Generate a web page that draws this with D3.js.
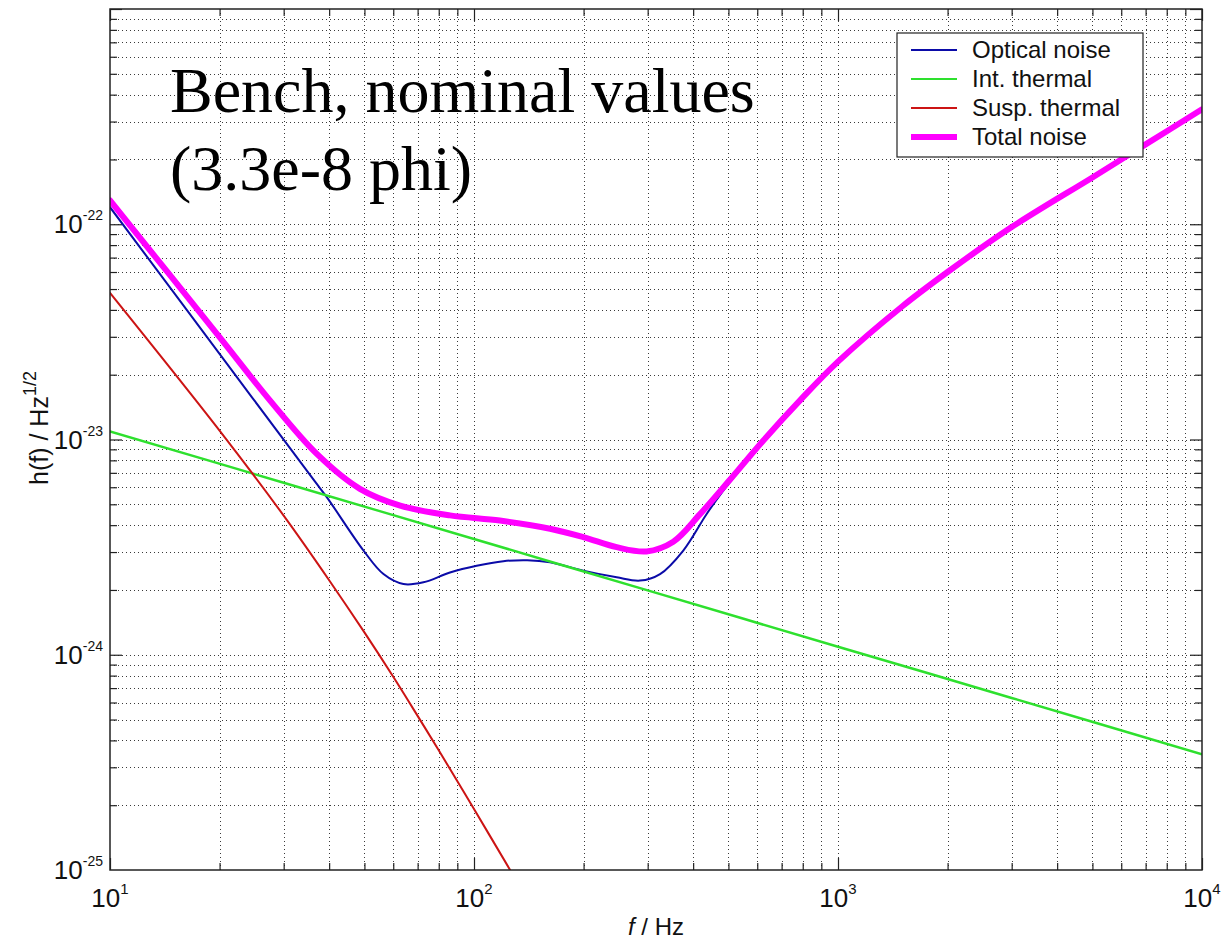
<!DOCTYPE html>
<html>
<head>
<meta charset="utf-8">
<script src="https://cdn.jsdelivr.net/npm/d3@7"></script>
<style>
  body { margin: 0; background: #fff; }
  svg { display: block; }
</style>
</head>
<body>
<div id="chart"></div>
<script>
/*
    DATA
*/
let opticalFreq = [10, 20, 36.5, 39.4, 49.7, 56.4, 64, 72.6, 85.9, 101.7, 120.4, 140, 161.8, 199.6, 246.6, 285.8, 324.4, 375.8, 435.7, 484, 623.7, 786.4, 1000, 1500, 2000, 3000, 5000, 7000, 10000];
let opticalNoise = [1.2e-22, 2.5e-23, 6.4e-24, 5.4e-24, 3.05e-24, 2.37e-24, 2.13e-24, 2.17e-24, 2.41e-24, 2.59e-24, 2.72e-24, 2.75e-24, 2.69e-24, 2.46e-24, 2.29e-24, 2.21e-24, 2.37e-24, 3.05e-24, 4.51e-24, 5.79e-24, 9.8e-24, 1.5e-23, 2.28e-23, 4.1e-23, 5.95e-23, 9.65e-23, 1.64e-22, 2.34e-22, 3.41e-22];

let intFreq = [10, 30, 100, 300, 1000, 3000, 10000];
let intThermal = [1.09e-23, 6.3e-24, 3.45e-24, 1.99e-24, 1.09e-24, 6.3e-25, 3.45e-25];

let suspFreq = [10, 20, 30, 40, 50, 60, 70, 80, 100, 127];
let suspThermal = [4.8e-23, 1.1e-23, 4.43e-24, 2.22e-24, 1.27e-24, 7.9e-25, 5.2e-25, 3.6e-25, 1.92e-25, 9.7e-26];

let totalFreq = [10, 20, 27.5, 37, 48.6, 62.7, 85.9, 117.8, 161.8, 199.6, 246.6, 297.8, 352.8, 417.8, 504.8, 623.7, 786.4, 1000, 1500, 2000, 3000, 5000, 7000, 10000];
let totalNoise = [1.29e-22, 2.99e-23, 1.52e-23, 8.57e-24, 5.9e-24, 4.93e-24, 4.44e-24, 4.2e-24, 3.85e-24, 3.52e-24, 3.16e-24, 3.02e-24, 3.35e-24, 4.5e-24, 6.5e-24, 9.9e-24, 1.52e-23, 2.3e-23, 4.15e-23, 6.0e-23, 9.7e-23, 1.65e-22, 2.35e-22, 3.42e-22];

let seriesNames = ["Optical noise", "Int. thermal", "Susp. thermal", "Total noise"];
let xMajorTicks = [1e1, 1e2, 1e3, 1e4];
let xTickExp = ["1", "2", "3", "4"];
let yMajorTicks = [1e-25, 1e-24, 1e-23, 1e-22];
let yTickExp = ["-25", "-24", "-23", "-22"];

/*
    CONSTANTS
*/
let WIDTH = 1224, HEIGHT = 943;
let PLOT = { left: 110, right: 1202, top: 9, bot: 870 };
let COLORS = ["#0b0ba8", "#2ee02e", "#cc1414", "#ff00ff"];
let WIDTHS = [2, 2.5, 2, 6];

var svg = d3.select("#chart")
    .append("svg")
    .attr("width", WIDTH)
    .attr("height", HEIGHT)
    .style("font-family", "'Liberation Sans', Arial, sans-serif");

var x = d3.scaleLog().domain([10, 1e4]).range([PLOT.left, PLOT.right]);
var y = d3.scaleLog().domain([1e-25, 1e-21]).range([PLOT.bot, PLOT.top]);

function isMajor(v) {
    var l = Math.log10(v);
    return Math.abs(l - Math.round(l)) < 1e-6;
}

/*
    GRID (dotted, every minor tick)
*/
var grid = svg.append("g").attr("stroke", "#3a3a3a").attr("stroke-width", 1).attr("stroke-dasharray", "1,3");
grid.selectAll(".gx")
    .data(x.ticks().filter(v => v > 10 && v < 1e4))
    .enter().append("line")
    .attr("x1", d => Math.round(x(d)) + 0.5).attr("x2", d => Math.round(x(d)) + 0.5)
    .attr("y1", PLOT.top).attr("y2", PLOT.bot);
grid.selectAll(".gy")
    .data(y.ticks().filter(v => v > 1.01e-25 && v < 0.99e-21))
    .enter().append("line")
    .attr("y1", d => Math.round(y(d)) + 0.5).attr("y2", d => Math.round(y(d)) + 0.5)
    .attr("x1", PLOT.left).attr("x2", PLOT.right);

/*
    TICKS on all four sides, pointing inward
*/
function tickLen(d) { return isMajor(d) ? 12 : 7; }

var axB = svg.append("g").attr("transform", `translate(0,${PLOT.bot})`)
    .call(d3.axisBottom(x).tickFormat("").tickSizeOuter(0));
var axT = svg.append("g").attr("transform", `translate(0,${PLOT.top})`)
    .call(d3.axisTop(x).tickFormat("").tickSizeOuter(0));
var axL = svg.append("g").attr("transform", `translate(${PLOT.left},0)`)
    .call(d3.axisLeft(y).tickFormat("").tickSizeOuter(0));
var axR = svg.append("g").attr("transform", `translate(${PLOT.right},0)`)
    .call(d3.axisRight(y).tickFormat("").tickSizeOuter(0));

axB.selectAll(".tick line").attr("y2", d => -tickLen(d));
axT.selectAll(".tick line").attr("y2", d => tickLen(d));
axL.selectAll(".tick line").attr("x2", d => tickLen(d));
axR.selectAll(".tick line").attr("x2", d => -tickLen(d));
[axB, axT, axL, axR].forEach(a => {
    a.select(".domain").remove();
    a.selectAll(".tick line").attr("stroke", "#222").attr("stroke-width", 1.2);
});

/*
    CURVES
*/
svg.append("clipPath").attr("id", "plotClip")
    .append("rect")
    .attr("x", PLOT.left).attr("y", PLOT.top)
    .attr("width", PLOT.right - PLOT.left).attr("height", PLOT.bot - PLOT.top);

var lineFn = d3.line()
    .x(d => x(d[0]))
    .y(d => y(d[1]))
    .curve(d3.curveCatmullRom.alpha(0.5));

var series = [
    d3.zip(opticalFreq, opticalNoise),
    d3.zip(intFreq, intThermal),
    d3.zip(suspFreq, suspThermal),
    d3.zip(totalFreq, totalNoise)
];

svg.append("g").attr("clip-path", "url(#plotClip)")
    .selectAll("path")
    .data(series)
    .enter()
    .append("path")
    .attr("d", lineFn)
    .attr("fill", "none")
    .attr("stroke", (d, i) => COLORS[i])
    .attr("stroke-width", (d, i) => WIDTHS[i])
    .attr("stroke-linejoin", "round")
    .attr("stroke-linecap", "round");

// frame
svg.append("rect")
    .attr("x", PLOT.left).attr("y", PLOT.top)
    .attr("width", PLOT.right - PLOT.left).attr("height", PLOT.bot - PLOT.top)
    .attr("fill", "none").attr("stroke", "#222").attr("stroke-width", 1.5);

/*
    TICK LABELS (10 with exponent)
*/
var xLab = svg.append("g").selectAll("text")
    .data(xMajorTicks)
    .enter().append("text")
    .attr("x", d => x(d))
    .attr("y", 907)
    .attr("text-anchor", "middle")
    .attr("font-size", 26)
    .attr("fill", "#111");
xLab.append("tspan").text("10");
xLab.append("tspan").attr("dy", -13).attr("font-size", 15).text((d, i) => xTickExp[i]);

var yLab = svg.append("g").selectAll("text")
    .data(yMajorTicks)
    .enter().append("text")
    .attr("x", 103)
    .attr("y", d => y(d) + 9)
    .attr("text-anchor", "end")
    .attr("font-size", 26)
    .attr("fill", "#111");
yLab.append("tspan").text("10");
yLab.append("tspan").attr("dy", -13).attr("font-size", 14).text((d, i) => yTickExp[i]);

/*
    AXIS TITLES
*/
var xTitle = svg.append("text")
    .attr("x", (PLOT.left + PLOT.right) / 2)
    .attr("y", 935)
    .attr("text-anchor", "middle")
    .attr("font-size", 24)
    .attr("fill", "#111");
xTitle.append("tspan").attr("font-style", "italic").text("f");
xTitle.append("tspan").text(" / Hz");

var yTitle = svg.append("text")
    .attr("transform", "translate(48,428) rotate(-90)")
    .attr("text-anchor", "middle")
    .attr("font-size", 25)
    .attr("fill", "#111");
yTitle.append("tspan").text("h(f) / Hz");
yTitle.append("tspan").attr("dy", -12).attr("font-size", 18).text("1/2");

/*
    BIG ANNOTATION
*/
var note = svg.append("text")
    .attr("font-family", "'Liberation Serif', 'Times New Roman', serif")
    .attr("font-size", 64)
    .attr("fill", "#000");
note.append("tspan").attr("x", 170).attr("y", 112).text("Bench, nominal values");
note.append("tspan").attr("x", 170).attr("y", 190).text("(3.3e-8 phi)");

/*
    LEGEND
*/
var legend = svg.append("g");
legend.append("rect")
    .attr("x", 897).attr("y", 33)
    .attr("width", 246).attr("height", 124)
    .attr("fill", "#fff").attr("stroke", "#222").attr("stroke-width", 1.2);

var rows = legend.selectAll(".row")
    .data(seriesNames)
    .enter().append("g")
    .attr("transform", (d, i) => `translate(0,${50 + i * 29})`);
rows.append("line")
    .attr("x1", 911).attr("x2", 957)
    .attr("stroke", (d, i) => COLORS[i])
    .attr("stroke-width", (d, i) => i == 3 ? 6 : 2);
rows.append("text")
    .attr("x", 972).attr("y", 8)
    .attr("font-size", 24)
    .attr("fill", "#111")
    .text(d => d);
</script>
</body>
</html>
